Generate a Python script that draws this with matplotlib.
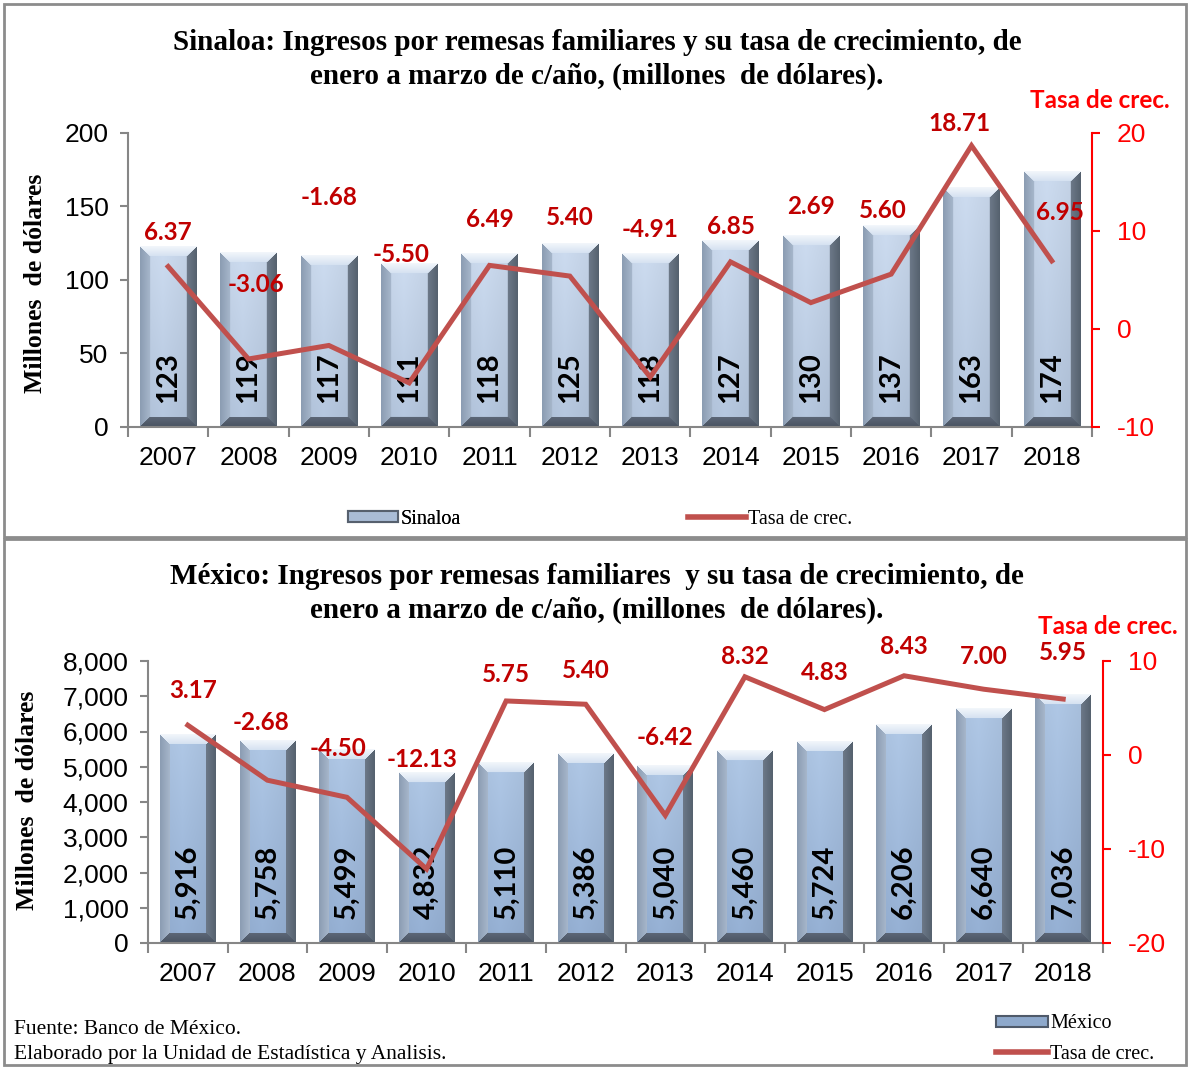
import numpy as np
import matplotlib
matplotlib.use("Agg")
import matplotlib.pyplot as plt
from matplotlib.patches import Rectangle, Patch
from matplotlib.lines import Line2D

years = ["2007", "2008", "2009", "2010", "2011", "2012",
         "2013", "2014", "2015", "2016", "2017", "2018"]

sinaloa = [123, 119, 117, 111, 118, 125, 118, 127, 130, 137, 163, 174]
sinaloa_rate = [6.37, -3.06, -1.68, -5.50, 6.49, 5.40, -4.91, 6.85, 2.69, 5.60, 18.71, 6.95]

mexico = [5916, 5758, 5499, 4832, 5110, 5386, 5040, 5460, 5724, 6206, 6640, 7036]
mexico_rate = [3.17, -2.68, -4.50, -12.13, 5.75, 5.40, -6.42, 8.32, 4.83, 8.43, 7.00, 5.95]

# label offsets (pixels) of the growth-rate labels, placed by hand in the original
sin_off = [(0, 34), (7, 74), (0, 148), (-8, 128), (0, 46), (0, 59),
           (0, 148), (0, 35), (0, 96), (-8, 64), (-12, 22), (8, 48)]
mex_off = [(5, 35), (-6, 58), (-9, 49), (-4, 110), (0, 26), (0, 34),
           (0, 78), (0, 20), (0, 37), (0, 29), (0, 33), (0, 47)]

W, H = 1190, 1067
LINE_C = "#c0504d"
LAB_C = "#c00000"
AX_C = "#868686"
SANS = "Liberation Sans"
SERIF = "Liberation Serif"
CAL = "Lato"
TICK_FS = 19


def hex_rgb(h):
    h = h.lstrip("#")
    return np.array([int(h[i:i + 2], 16) for i in (0, 2, 4)]) / 255.0


def bevel_image(wpx, hpx, face_top, face_bot, b=10):
    rows, cols = np.mgrid[0:hpx, 0:wpx]
    dl = cols
    dr = wpx - 1 - cols
    dt = rows
    db = hpx - 1 - rows
    stack = np.stack([dt, db, dl, dr])
    which = np.argmin(stack, axis=0)
    dmin = np.min(stack, axis=0)
    t = (rows / max(hpx - 1, 1))[..., None]
    img = hex_rgb(face_top) * (1 - t) + hex_rgb(face_bot) * t
    s = (cols / max(wpx - 1, 1))[..., None]
    img = img * (1 - 0.10 * np.abs(s - 0.4))
    # bevel edges: top, bottom, left, right (light to dark gradient inward)
    outer = [hex_rgb("#f2f6fb"), hex_rgb("#4a5462"),
             hex_rgb("#8c9db3"), hex_rgb("#56626f")]
    inner = [hex_rgb("#d3e0f0"), hex_rgb("#5d6878"),
             hex_rgb("#a8b8cc"), hex_rgb("#6e7a8a")]
    f = (dmin / b)[..., None]
    for k in range(4):
        m = (which == k) & (dmin < b)
        blend = outer[k] * (1 - f) + inner[k] * f
        img[m] = blend[m]
    return np.clip(img, 0, 1)


def draw_panel(fig, rect, values, rates, offsets, ylim, yticks, ytick_fmt,
               rlim, rticks, face_top, face_bot, lab_fmt):
    ax = fig.add_axes(rect)
    x = np.arange(len(years))
    bars = ax.bar(x, values, width=0.7, color=face_top, zorder=2)
    ax.set_xlim(-0.5, len(years) - 0.5)
    ax.set_ylim(*ylim)
    ax.set_yticks(yticks)
    ax.set_yticklabels([ytick_fmt(v) for v in yticks], fontsize=TICK_FS, family=SANS)
    ax.set_xticks(x)
    ax.set_xticklabels(years, fontsize=TICK_FS, family=SANS)
    ax.set_xticks(np.arange(-0.5, len(years)), minor=True)
    ax.tick_params(axis="x", which="major", length=0, pad=14)
    ax.tick_params(axis="x", which="minor", length=7, color=AX_C, width=1.5)
    ax.tick_params(axis="y", length=6, color=AX_C, width=1.5, pad=8)
    for s in ("top", "right"):
        ax.spines[s].set_visible(False)
    for s in ("left", "bottom"):
        ax.spines[s].set_color(AX_C)
        ax.spines[s].set_linewidth(1.5)

    fig.canvas.draw()
    for bar in bars:
        bb = bar.get_window_extent()
        wpx, hpx = int(round(bb.width)), int(round(bb.height))
        img = bevel_image(wpx, hpx, face_top, face_bot)
        ax.imshow(img, extent=(bar.get_x(), bar.get_x() + bar.get_width(),
                               0, bar.get_height()),
                  aspect="auto", zorder=2.5, interpolation="bilinear")
    ax.set_xlim(-0.5, len(years) - 0.5)
    ax.set_ylim(*ylim)

    for xi, v in zip(x, values):
        ax.annotate(lab_fmt(v), (xi, 0), xytext=(0, 24), textcoords="offset pixels",
                    rotation=90, ha="center", va="bottom", fontsize=21,
                    family=CAL, fontweight="bold", color="black", zorder=3)

    ax2 = ax.twinx()
    ax2.plot(x, rates, color=LINE_C, lw=3.6, solid_joinstyle="miter", zorder=4)
    ax2.set_ylim(*rlim)
    ax2.set_yticks(rticks)
    ax2.set_yticklabels([str(v) for v in rticks], fontsize=TICK_FS, family=SANS, color="#ff0000")
    ax2.tick_params(axis="y", length=6, color="#ff0000", width=1.5, pad=12)
    for s in ("top", "left", "bottom"):
        ax2.spines[s].set_visible(False)
    ax2.spines["right"].set_color("#ff0000")
    ax2.spines["right"].set_linewidth(1.5)
    for xi, r, off in zip(x, rates, offsets):
        ax2.annotate(f"{r:.2f}", (xi, r), xytext=off, textcoords="offset pixels",
                     ha="center", va="center", fontsize=17.5, family=CAL,
                     fontweight="bold", color=LAB_C, zorder=5)
    return ax, ax2


fig = plt.figure(figsize=(W / 100, H / 100), dpi=100)

# frames
fig.patches.append(Rectangle((4 / W, 1 - 537 / H), (W - 8) / W, 533 / H,
                             transform=fig.transFigure, fill=False,
                             edgecolor="#8c8c8c", lw=2))
fig.patches.append(Rectangle((4 / W, 2 / H), (W - 8) / W, (1065 - 539) / H,
                             transform=fig.transFigure, fill=False,
                             edgecolor="#8c8c8c", lw=2))

TITLE_FS = 21

# top panel
draw_panel(fig, [128 / W, 1 - 427 / H, 964 / W, 294 / H], sinaloa, sinaloa_rate, sin_off,
           (0, 200), [0, 50, 100, 150, 200], lambda v: f"{v}",
           (-10, 20), [-10, 0, 10, 20], "#cddcf0", "#b4c6de", lambda v: f"{v}")
fig.text(597 / W, 1 - 42 / H, "Sinaloa: Ingresos por remesas familiares y su tasa de crecimiento, de",
         ha="center", va="center", family=SERIF, fontweight="bold", fontsize=TITLE_FS)
fig.text(597 / W, 1 - 76 / H, "enero a marzo de c/año, (millones  de dólares).",
         ha="center", va="center", family=SERIF, fontweight="bold", fontsize=TITLE_FS)
fig.text(1100 / W, 1 - 101 / H, "Tasa de crec.", ha="center", va="center",
         family=CAL, fontweight="bold", fontsize=17.5, color="#ff0000")
fig.text(36 / W, 1 - 283 / H, "Millones  de dólares", rotation=90, ha="center", va="center",
         family=SERIF, fontweight="bold", fontsize=18.5)

LEG_FS = 14.5
leg1 = fig.legend([Patch(facecolor="#a9bcd6", edgecolor="#56606e", lw=1.5)], ["Sinaloa"],
                  loc="center left", bbox_to_anchor=(348 / W, 1 - 519 / H), frameon=False,
                  prop={"family": SERIF, "size": LEG_FS}, handlelength=2.5, handleheight=0.45,
                  handletextpad=0.1, borderpad=0, borderaxespad=0)
leg2 = fig.legend([Line2D([], [], color=LINE_C, lw=4)], ["Tasa de crec."],
                  loc="center left", bbox_to_anchor=(688 / W, 1 - 519 / H), frameon=False,
                  prop={"family": SERIF, "size": LEG_FS}, handlelength=2.9, handletextpad=0.1,
                  borderpad=0, borderaxespad=0)
fig.add_artist(leg1)

# bottom panel
draw_panel(fig, [148 / W, 1 - 943 / H, 955 / W, 282 / H], mexico, mexico_rate, mex_off,
           (0, 8000), list(range(0, 8001, 1000)), lambda v: f"{v:,}",
           (-20, 10), [-20, -10, 0, 10], "#b0c8e6", "#95b0d4", lambda v: f"{v:,}")
fig.text(597 / W, 1 - 577 / H, "México: Ingresos por remesas familiares  y su tasa de crecimiento, de",
         ha="center", va="center", family=SERIF, fontweight="bold", fontsize=TITLE_FS)
fig.text(597 / W, 1 - 610 / H, "enero a marzo de c/año, (millones  de dólares).",
         ha="center", va="center", family=SERIF, fontweight="bold", fontsize=TITLE_FS)
fig.text(1108 / W, 1 - 627 / H, "Tasa de crec.", ha="center", va="center",
         family=CAL, fontweight="bold", fontsize=17.5, color="#ff0000")
fig.text(28 / W, 1 - 800 / H, "Millones  de dólares", rotation=90, ha="center", va="center",
         family=SERIF, fontweight="bold", fontsize=18.5)

fig.legend([Patch(facecolor="#8ea9cc", edgecolor="#4f5a6a", lw=1.5),
            Line2D([], [], color=LINE_C, lw=4)], ["México", "Tasa de crec."],
           loc="center left", bbox_to_anchor=(996 / W, 1 - 1039 / H), frameon=False,
           prop={"family": SERIF, "size": LEG_FS}, handlelength=2.6, handleheight=0.45,
           handletextpad=0.1, labelspacing=0.55, borderpad=0, borderaxespad=0)

fig.text(14 / W, 1 - 1030 / H, "Fuente: Banco de México.", ha="left", va="center",
         family=SERIF, fontsize=15.5)
fig.text(14 / W, 1 - 1054 / H, "Elaborado por la Unidad de Estadística y Analisis.",
         ha="left", va="center", family=SERIF, fontsize=15.5)

fig.savefig("out.png", dpi=100)
